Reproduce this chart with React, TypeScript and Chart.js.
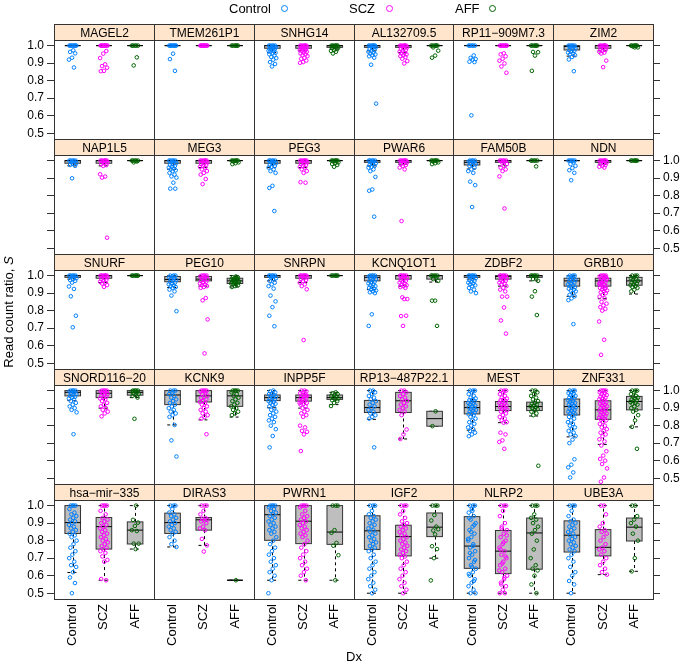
import React, { useEffect, useRef } from 'react';
import { Chart, registerables } from 'chart.js';
Chart.register(...registerables);

// ---------------- data ----------------
const GROUPS = ['Control', 'SCZ', 'AFF'];
const GROUP_COLORS = ['#0080ff', '#ff00ff', '#006400'];
const Y_TICKS = [0.5, 0.6, 0.7, 0.8, 0.9, 1.0];
const Y_MIN = 0.467;
const Y_MAX = 1.032;

const PANEL_NAMES = [
  'MAGEL2', 'TMEM261P1', 'SNHG14', 'AL132709.5', 'RP11\u2212909M7.3', 'ZIM2',
  'NAP1L5', 'MEG3', 'PEG3', 'PWAR6', 'FAM50B', 'NDN',
  'SNURF', 'PEG10', 'SNRPN', 'KCNQ1OT1', 'ZDBF2', 'GRB10',
  'SNORD116\u221220', 'KCNK9', 'INPP5F', 'RP13\u2212487P22.1', 'MEST', 'ZNF331',
  'hsa\u2212mir\u2212335', 'DIRAS3', 'PWRN1', 'IGF2', 'NLRP2', 'UBE3A',
];

// points per panel: [Control, SCZ, AFF]
const MAGEL2_PTS = [
  [1, 1, 1, 1, 1, 1, 1, 1, 0.973, 0.964, 0.956, 0.931, 0.92, 0.875],
  [1, 1, 1, 1, 1, 1, 1, 1, 1, 1, 0.969, 0.954, 0.929, 0.893, 0.883, 0.874, 0.856, 0.854],
  [1, 1, 1, 1, 1, 0.933, 0.887],
];
const TMEM261P1_PTS = [
  [1, 1, 1, 1, 1, 1, 1, 1, 0.954, 0.923, 0.856],
  [1, 1, 1, 1, 1, 1, 1, 1, 1, 1],
  [1, 1, 1, 1, 1, 1],
];
const SNHG14_PTS = [
  [1, 1, 1, 1, 1, 0.995, 0.99, 0.99, 0.985, 0.98, 0.98, 0.975, 0.97, 0.97, 0.965, 0.96, 0.955, 0.95, 0.944, 0.935, 0.929, 0.92, 0.906, 0.895, 0.881],
  [1, 1, 1, 1, 1, 1, 0.995, 0.99, 0.99, 0.985, 0.98, 0.98, 0.975, 0.97, 0.97, 0.965, 0.96, 0.955, 0.95, 0.945, 0.94, 0.93, 0.925, 0.915, 0.906, 0.902],
  [1, 1, 1, 1, 1, 1, 0.995, 0.99, 0.99, 0.985, 0.98, 0.975, 0.97, 0.965, 0.955],
];
const AL132709_PTS = [
  [1, 1, 1, 1, 1, 1, 0.995, 0.99, 0.985, 0.98, 0.975, 0.97, 0.965, 0.96, 0.955, 0.95, 0.945, 0.939, 0.931, 0.891, 0.669],
  [1, 1, 1, 1, 1, 1, 0.995, 0.99, 0.985, 0.98, 0.975, 0.97, 0.965, 0.96, 0.955, 0.95, 0.945, 0.94, 0.935, 0.925, 0.912, 0.898],
  [1, 1, 1, 1, 1, 1, 0.99, 0.971, 0.943, 0.931],
];
const RP11_PTS = [
  [1, 1, 1, 1, 1, 0.944, 0.93, 0.923, 0.92, 0.908, 0.906, 0.602],
  [1, 1, 1, 1, 1, 1, 1, 1, 0.956, 0.95, 0.939, 0.925, 0.914, 0.898, 0.881, 0.845],
  [1, 1, 1, 1, 1, 1, 0.964, 0.962, 0.943, 0.856],
];
const ZIM2_PTS = [
  [1, 1, 1, 1, 1, 0.995, 0.99, 0.985, 0.98, 0.975, 0.97, 0.965, 0.96, 0.955, 0.95, 0.945, 0.935, 0.921, 0.854],
  [1, 1, 1, 1, 1, 1, 0.995, 0.99, 0.985, 0.98, 0.975, 0.97, 0.965, 0.96, 0.955, 0.914, 0.877],
  [1, 1, 1, 1, 1, 1, 0.995, 0.99, 0.99],
];
const NAP1L5_PTS = [
  [1, 1, 1, 1, 1, 0.995, 0.99, 0.985, 0.98, 0.975, 0.97, 0.899],
  [1, 1, 1, 1, 1, 1, 0.995, 0.99, 0.985, 0.98, 0.975, 0.97, 0.922, 0.909, 0.903, 0.56],
  [1, 1, 1, 1, 1, 0.995, 0.99],
];
const MEG3_PTS = [
  [1, 1, 1, 1, 1, 0.995, 0.99, 0.985, 0.98, 0.975, 0.97, 0.965, 0.96, 0.955, 0.95, 0.945, 0.94, 0.93, 0.92, 0.91, 0.903, 0.874, 0.84, 0.84],
  [1, 1, 1, 1, 1, 1, 0.995, 0.99, 0.985, 0.98, 0.975, 0.97, 0.965, 0.96, 0.95, 0.94, 0.93, 0.92, 0.895, 0.866],
  [1, 1, 1, 1, 1, 1, 0.995, 0.99, 0.985, 0.98],
];
const PEG3_PTS = [
  [1, 1, 1, 1, 1, 0.995, 0.99, 0.985, 0.98, 0.975, 0.97, 0.965, 0.96, 0.95, 0.94, 0.93, 0.856, 0.844, 0.712],
  [1, 1, 1, 1, 1, 1, 0.995, 0.99, 0.985, 0.98, 0.975, 0.97, 0.965, 0.96, 0.95, 0.94, 0.93, 0.877, 0.874],
  [1, 1, 1, 1, 1, 1, 0.995, 0.99, 0.985, 0.98, 0.975, 0.965],
];
const PWAR6_PTS = [
  [1, 1, 1, 1, 1, 0.995, 0.99, 0.985, 0.98, 0.975, 0.97, 0.965, 0.96, 0.95, 0.94, 0.907, 0.835, 0.828, 0.68],
  [1, 1, 1, 1, 1, 1, 0.995, 0.99, 0.985, 0.98, 0.975, 0.97, 0.96, 0.95, 0.655],
  [1, 1, 1, 1, 1, 1, 0.995, 0.99, 0.985, 0.98],
];
const FAM50B_PTS = [
  [1, 1, 1, 1, 0.995, 0.99, 0.985, 0.98, 0.975, 0.97, 0.96, 0.95, 0.94, 0.93, 0.88, 0.86, 0.735],
  [1, 1, 1, 1, 1, 0.995, 0.99, 0.98, 0.97, 0.96, 0.95, 0.94, 0.91, 0.727],
  [1, 1, 1, 1, 1, 0.967],
];
const NDN_PTS = [
  [1, 1, 1, 1, 1, 0.99, 0.98, 0.97, 0.958, 0.945, 0.93, 0.888],
  [1, 1, 1, 1, 1, 1, 0.995, 0.99, 0.985, 0.98, 0.975, 0.97, 0.965, 0.96],
  [1, 1, 1, 1, 1, 1],
];
const SNURF_PTS = [
  [1, 1, 1, 1, 1, 0.995, 0.99, 0.985, 0.98, 0.975, 0.97, 0.96, 0.938, 0.924, 0.882, 0.771, 0.705],
  [1, 1, 1, 1, 1, 1, 0.995, 0.99, 0.985, 0.98, 0.975, 0.97, 0.965, 0.96, 0.955, 0.946, 0.936],
  [1, 1, 1, 1, 1, 1],
];
const PEG10_PTS = [
  [1, 1, 1, 0.995, 0.99, 0.985, 0.98, 0.975, 0.97, 0.965, 0.96, 0.955, 0.95, 0.945, 0.94, 0.935, 0.93, 0.92, 0.91, 0.886, 0.797],
  [1, 1, 1, 1, 0.995, 0.99, 0.985, 0.98, 0.975, 0.97, 0.965, 0.96, 0.955, 0.95, 0.945, 0.94, 0.935, 0.93, 0.872, 0.859, 0.75, 0.556],
  [0.995, 0.99, 0.99, 0.985, 0.98, 0.98, 0.975, 0.97, 0.97, 0.965, 0.96, 0.96, 0.955, 0.95, 0.95, 0.945, 0.94, 0.935, 0.985, 0.975, 0.965],
];
const SNRPN_PTS = [
  [1, 1, 1, 1, 1, 0.995, 0.99, 0.985, 0.98, 0.97, 0.96, 0.95, 0.94, 0.926, 0.886, 0.853, 0.82, 0.771, 0.711],
  [1, 1, 1, 1, 1, 1, 0.995, 0.99, 0.985, 0.98, 0.975, 0.97, 0.96, 0.95, 0.94, 0.922, 0.632],
  [1, 1, 1, 1, 1, 1],
];
const KCNQ1OT1_PTS = [
  [1, 1, 1, 1, 0.995, 0.99, 0.985, 0.98, 0.975, 0.97, 0.965, 0.96, 0.955, 0.95, 0.945, 0.94, 0.935, 0.93, 0.925, 0.92, 0.915, 0.91, 0.905, 0.9, 0.779, 0.713],
  [1, 1, 1, 1, 1, 0.995, 0.99, 0.985, 0.98, 0.975, 0.97, 0.965, 0.96, 0.955, 0.95, 0.945, 0.94, 0.935, 0.93, 0.876, 0.866, 0.866, 0.769, 0.771, 0.713],
  [1, 1, 1, 1, 1, 0.99, 0.98, 0.97, 0.857, 0.857, 0.713],
];
const ZDBF2_PTS = [
  [1, 1, 1, 1, 1, 0.995, 0.99, 0.985, 0.98, 0.975, 0.97, 0.965, 0.96, 0.955, 0.95, 0.945, 0.94, 0.93, 0.92, 0.91, 0.9],
  [1, 1, 1, 1, 1, 0.995, 0.99, 0.985, 0.98, 0.975, 0.97, 0.965, 0.96, 0.955, 0.95, 0.94, 0.93, 0.92, 0.91, 0.88, 0.88, 0.818, 0.744, 0.669],
  [1, 1, 1, 1, 1, 0.99, 0.98, 0.97, 0.911, 0.88, 0.775],
];
const GRB10_PTS = [
  [1, 1, 1, 0.995, 0.99, 0.985, 0.98, 0.975, 0.97, 0.965, 0.96, 0.955, 0.95, 0.945, 0.94, 0.935, 0.93, 0.925, 0.92, 0.915, 0.91, 0.9, 0.89, 0.882, 0.87, 0.86, 0.723],
  [1, 1, 1, 1, 0.995, 0.99, 0.985, 0.98, 0.975, 0.97, 0.965, 0.96, 0.955, 0.95, 0.945, 0.94, 0.935, 0.93, 0.925, 0.92, 0.915, 0.91, 0.905, 0.9, 0.89, 0.88, 0.87, 0.85, 0.84, 0.83, 0.82, 0.81, 0.8, 0.738, 0.634, 0.548, 0.99, 0.97, 0.95, 0.93, 0.96, 0.98],
  [1, 1, 1, 0.99, 0.985, 0.98, 0.975, 0.97, 0.965, 0.96, 0.955, 0.95, 0.945, 0.94, 0.935, 0.93, 0.92, 0.91],
];
const SNORD116_PTS = [
  [1, 1, 1, 1, 0.995, 0.99, 0.985, 0.98, 0.975, 0.97, 0.965, 0.96, 0.955, 0.95, 0.94, 0.93, 0.92, 0.91, 0.9, 0.89, 0.876, 0.751],
  [1, 1, 1, 1, 0.995, 0.99, 0.985, 0.98, 0.975, 0.97, 0.965, 0.96, 0.955, 0.95, 0.94, 0.93, 0.92, 0.91, 0.9, 0.89, 0.88, 0.87, 0.853],
  [1, 1, 1, 1, 0.995, 0.99, 0.985, 0.98, 0.975, 0.97, 0.96, 0.839],
];
const KCNK9_PTS = [
  [1, 1, 1, 0.99, 0.98, 0.97, 0.96, 0.95, 0.94, 0.93, 0.92, 0.91, 0.9, 0.89, 0.88, 0.87, 0.86, 0.85, 0.804, 0.716, 0.624],
  [1, 1, 1, 1, 0.995, 0.99, 0.98, 0.97, 0.965, 0.96, 0.95, 0.94, 0.935, 0.93, 0.92, 0.91, 0.9, 0.89, 0.88, 0.87, 0.86, 0.85, 0.84, 0.751],
  [1, 1, 1, 1, 0.99, 0.98, 0.97, 0.96, 0.95, 0.94, 0.93, 0.92, 0.91, 0.9, 0.89, 0.88, 0.87, 0.86],
];
const INPP5F_PTS = [
  [1, 0.995, 0.99, 0.985, 0.98, 0.975, 0.97, 0.965, 0.96, 0.955, 0.95, 0.945, 0.94, 0.935, 0.93, 0.925, 0.92, 0.91, 0.9, 0.89, 0.88, 0.87, 0.86, 0.85, 0.84, 0.83, 0.82, 0.8, 0.78, 0.741, 0.676],
  [1, 1, 0.995, 0.99, 0.985, 0.98, 0.975, 0.97, 0.965, 0.96, 0.955, 0.95, 0.945, 0.94, 0.935, 0.93, 0.925, 0.92, 0.91, 0.9, 0.89, 0.88, 0.87, 0.86, 0.85, 0.8, 0.79, 0.77, 0.765, 0.75, 0.655, 0.97, 0.95, 0.93],
  [0.99, 0.985, 0.98, 0.975, 0.97, 0.965, 0.96, 0.955, 0.95, 0.945, 0.94, 0.93, 0.912],
];
const RP13_PTS = [
  [1, 1, 0.99, 0.98, 0.97, 0.96, 0.95, 0.94, 0.93, 0.92, 0.91, 0.9, 0.89, 0.88, 0.87, 0.86, 0.85, 0.84, 0.676],
  [1, 1, 0.99, 0.98, 0.97, 0.96, 0.95, 0.94, 0.93, 0.92, 0.91, 0.9, 0.89, 0.88, 0.86, 0.778, 0.75, 0.724],
  [0.882, 0.797],
];
const MEST_PTS = [
  [1, 1, 1, 0.99, 0.98, 0.97, 0.96, 0.955, 0.95, 0.945, 0.94, 0.935, 0.93, 0.925, 0.92, 0.915, 0.91, 0.905, 0.9, 0.895, 0.89, 0.885, 0.88, 0.875, 0.87, 0.865, 0.86, 0.85, 0.84, 0.83, 0.82, 0.81, 0.8, 0.79, 0.78, 0.77, 0.76, 0.75, 0.74],
  [1, 1, 1, 0.99, 0.98, 0.97, 0.96, 0.955, 0.95, 0.945, 0.94, 0.935, 0.93, 0.925, 0.92, 0.915, 0.91, 0.905, 0.9, 0.895, 0.89, 0.885, 0.88, 0.87, 0.86, 0.85, 0.84, 0.83, 0.82, 0.817, 0.76, 0.75, 0.716, 0.707, 0.668],
  [1, 1, 0.99, 0.98, 0.97, 0.96, 0.95, 0.94, 0.93, 0.925, 0.92, 0.915, 0.91, 0.905, 0.9, 0.895, 0.89, 0.88, 0.87, 0.86, 0.571],
];
const ZNF331_PTS = [
  [1, 1, 1, 0.99, 0.985, 0.98, 0.975, 0.97, 0.965, 0.96, 0.955, 0.95, 0.945, 0.94, 0.935, 0.93, 0.925, 0.92, 0.915, 0.91, 0.905, 0.9, 0.895, 0.89, 0.885, 0.88, 0.875, 0.87, 0.865, 0.86, 0.85, 0.84, 0.83, 0.82, 0.81, 0.8, 0.79, 0.78, 0.77, 0.76, 0.75, 0.74, 0.72, 0.7, 0.608, 0.577, 0.562, 0.533, 0.504],
  [1, 1, 1, 1, 0.99, 0.985, 0.98, 0.975, 0.97, 0.965, 0.96, 0.955, 0.95, 0.945, 0.94, 0.935, 0.93, 0.925, 0.92, 0.915, 0.91, 0.905, 0.9, 0.895, 0.89, 0.885, 0.88, 0.875, 0.87, 0.865, 0.86, 0.855, 0.85, 0.845, 0.84, 0.835, 0.83, 0.82, 0.81, 0.8, 0.79, 0.78, 0.77, 0.76, 0.75, 0.74, 0.722, 0.71, 0.687, 0.654, 0.629, 0.61, 0.6, 0.581, 0.556, 0.504, 0.48],
  [1, 1, 1, 0.99, 0.98, 0.97, 0.965, 0.96, 0.955, 0.95, 0.945, 0.94, 0.935, 0.93, 0.925, 0.92, 0.91, 0.9, 0.89, 0.88, 0.86, 0.83, 0.793, 0.668],
];
const MIR335_PTS = [
  [1, 1, 1, 1, 0.98, 0.96, 0.95, 0.94, 0.93, 0.92, 0.91, 0.9, 0.89, 0.88, 0.87, 0.86, 0.85, 0.84, 0.83, 0.82, 0.8, 0.78, 0.76, 0.74, 0.72, 0.7, 0.68, 0.66, 0.65, 0.62, 0.59, 0.558, 0.5],
  [1, 1, 1, 1, 0.97, 0.95, 0.93, 0.92, 0.91, 0.9, 0.89, 0.88, 0.87, 0.86, 0.85, 0.84, 0.83, 0.82, 0.81, 0.8, 0.79, 0.78, 0.77, 0.76, 0.75, 0.74, 0.73, 0.71, 0.69, 0.68, 0.581, 0.574],
  [1, 0.919, 0.903, 0.884, 0.86, 0.855, 0.783, 0.783, 0.752],
];
const DIRAS3_PTS = [
  [1, 1, 1, 0.98, 0.96, 0.95, 0.94, 0.93, 0.92, 0.91, 0.9, 0.89, 0.88, 0.87, 0.86, 0.85, 0.84, 0.82, 0.8, 0.78, 0.764],
  [1, 1, 1, 0.97, 0.95, 0.93, 0.925, 0.92, 0.915, 0.91, 0.9, 0.88, 0.87, 0.86, 0.81, 0.773, 0.738],
  [0.574],
];
const PWRN1_PTS = [
  [1, 1, 1, 1, 0.99, 0.98, 0.97, 0.96, 0.95, 0.94, 0.93, 0.92, 0.91, 0.9, 0.89, 0.88, 0.87, 0.86, 0.85, 0.84, 0.82, 0.8, 0.78, 0.76, 0.74, 0.72, 0.7, 0.68, 0.66, 0.64, 0.62, 0.6, 0.574, 0.5],
  [1, 1, 1, 1, 0.99, 0.97, 0.95, 0.94, 0.93, 0.92, 0.91, 0.9, 0.89, 0.88, 0.87, 0.86, 0.85, 0.84, 0.83, 0.82, 0.8, 0.78, 0.76, 0.74, 0.72, 0.7, 0.68, 0.66, 0.64, 0.62, 0.6, 0.574],
  [1, 1, 1, 0.86, 0.845, 0.787, 0.771, 0.717, 0.574],
];
const IGF2_PTS = [
  [1, 1, 1, 0.97, 0.95, 0.94, 0.93, 0.92, 0.91, 0.9, 0.89, 0.88, 0.87, 0.86, 0.85, 0.84, 0.83, 0.82, 0.81, 0.8, 0.79, 0.78, 0.77, 0.76, 0.75, 0.74, 0.72, 0.7, 0.68, 0.66, 0.64, 0.62, 0.6, 0.58, 0.56, 0.54, 0.52, 0.5],
  [1, 1, 1, 0.97, 0.95, 0.93, 0.91, 0.9, 0.89, 0.88, 0.87, 0.86, 0.85, 0.84, 0.83, 0.82, 0.81, 0.8, 0.79, 0.78, 0.77, 0.76, 0.75, 0.74, 0.73, 0.72, 0.71, 0.7, 0.68, 0.66, 0.64, 0.62, 0.6, 0.58, 0.56, 0.54, 0.52, 0.5],
  [1, 1, 1, 0.946, 0.915, 0.88, 0.858, 0.865, 0.836, 0.768, 0.752, 0.7, 0.573],
];
const NLRP2_PTS = [
  [1, 1, 1, 0.98, 0.96, 0.94, 0.92, 0.9, 0.88, 0.86, 0.84, 0.82, 0.8, 0.78, 0.76, 0.74, 0.72, 0.7, 0.68, 0.66, 0.64, 0.62, 0.6, 0.58, 0.56, 0.54, 0.52, 0.5, 0.5, 0.97, 0.93, 0.89, 0.85, 0.81, 0.77, 0.73, 0.69, 0.65, 0.61, 0.57],
  [1, 1, 1, 0.97, 0.94, 0.9, 0.88, 0.86, 0.84, 0.82, 0.8, 0.78, 0.76, 0.74, 0.72, 0.7, 0.68, 0.66, 0.64, 0.62, 0.6, 0.58, 0.56, 0.54, 0.52, 0.5, 0.5, 0.87, 0.83, 0.79, 0.75, 0.71, 0.67, 0.63, 0.59, 0.55],
  [1, 1, 1, 0.95, 0.93, 0.92, 0.9, 0.88, 0.86, 0.84, 0.8, 0.75, 0.7, 0.66, 0.64, 0.63, 0.6, 0.55, 0.5],
];
const UBE3A_PTS = [
  [1, 1, 1, 0.97, 0.94, 0.92, 0.91, 0.9, 0.89, 0.88, 0.87, 0.86, 0.85, 0.84, 0.83, 0.82, 0.81, 0.8, 0.79, 0.78, 0.77, 0.76, 0.75, 0.74, 0.72, 0.7, 0.68, 0.65, 0.62, 0.6, 0.57, 0.55, 0.5],
  [1, 1, 0.95, 0.9, 0.88, 0.86, 0.85, 0.84, 0.82, 0.8, 0.78, 0.76, 0.75, 0.74, 0.72, 0.7, 0.68, 0.66, 0.64, 0.62, 0.606],
  [1, 1, 0.94, 0.92, 0.9, 0.88, 0.84, 0.8, 0.7, 0.625],
];

// box stats per panel: [lowWhisker, Q1, median, Q3, highWhisker] for Control, SCZ, AFF
const ONE = [1, 1, 1, 1, 1];
const MAGEL2_BOX = [ONE, ONE, ONE];
const TMEM261P1_BOX = [ONE, ONE, ONE];
const SNHG14_BOX = [[0.96, 0.985, 1, 1, 1], [0.97, 0.985, 1, 1, 1], [0.98, 0.99, 1, 1, 1]];
const AL132709_BOX = [[0.97, 0.99, 1, 1, 1], [0.96, 0.99, 1, 1, 1], ONE];
const RP11_BOX = [ONE, ONE, ONE];
const ZIM2_BOX = [[0.94, 0.975, 0.995, 1, 1], [0.97, 0.985, 1, 1, 1], ONE];
const NAP1L5_BOX = [[0.97, 0.985, 1, 1, 1], [0.97, 0.985, 1, 1, 1], ONE];
const MEG3_BOX = [[0.95, 0.985, 1, 1, 1], [0.96, 0.985, 1, 1, 1], ONE];
const PEG3_BOX = [[0.96, 0.985, 1, 1, 1], [0.96, 0.985, 1, 1, 1], ONE];
const PWAR6_BOX = [[0.97, 0.99, 1, 1, 1], [0.98, 0.99, 1, 1, 1], ONE];
const FAM50B_BOX = [[0.952, 0.975, 0.99, 1, 1], [0.97, 0.99, 1, 1, 1], ONE];
const NDN_BOX = [ONE, [0.98, 0.99, 1, 1, 1], ONE];
const SNURF_BOX = [[0.98, 0.99, 1, 1, 1], [0.96, 0.985, 1, 1, 1], ONE];
const PEG10_BOX = [[0.932, 0.965, 0.978, 0.995, 1], [0.94, 0.97, 0.98, 0.995, 1], [0.935, 0.955, 0.97, 0.985, 1]];
const SNRPN_BOX = [[0.97, 0.99, 1, 1, 1], [0.96, 0.985, 1, 1, 1], ONE];
const KCNQ1OT1_BOX = [[0.92, 0.97, 0.99, 1, 1], [0.94, 0.98, 1, 1, 1], [0.963, 0.98, 1, 1, 1]];
const ZDBF2_BOX = [[0.98, 0.99, 1, 1, 1], [0.94, 0.98, 0.995, 1, 1], [0.97, 0.99, 1, 1, 1]];
const GRB10_BOX = [[0.882, 0.94, 0.97, 0.985, 1], [0.868, 0.94, 0.97, 0.985, 1], [0.895, 0.945, 0.97, 0.99, 1]];
const SNORD116_BOX = [[0.943, 0.97, 0.99, 1, 1], [0.9, 0.96, 0.985, 1, 1], [0.96, 0.974, 0.99, 1, 1]];
const KCNK9_BOX = [[0.804, 0.92, 0.975, 1, 1], [0.833, 0.935, 0.97, 1, 1], [0.849, 0.91, 0.97, 1, 1]];
const INPP5F_BOX = [[0.902, 0.943, 0.96, 0.975, 1], [0.9, 0.94, 0.96, 0.975, 1], [0.92, 0.95, 0.96, 0.975, 0.99]];
const RP13_BOX = [[0.836, 0.875, 0.903, 0.944, 1], [0.724, 0.875, 0.942, 0.99, 1], [0.797, 0.797, 0.84, 0.882, 0.882]];
const MEST_BOX = [[0.774, 0.867, 0.903, 0.938, 1], [0.817, 0.886, 0.909, 0.938, 1], [0.855, 0.886, 0.909, 0.934, 1]];
const ZNF331_BOX = [[0.736, 0.861, 0.909, 0.952, 1], [0.693, 0.836, 0.89, 0.942, 1], [0.793, 0.89, 0.938, 0.967, 1]];
const MIR335_BOX = [[0.618, 0.841, 0.903, 1, 1], [0.574, 0.752, 0.88, 0.932, 1], [0.752, 0.781, 0.86, 0.907, 1]];
const DIRAS3_BOX = [[0.764, 0.841, 0.903, 0.957, 1], [0.773, 0.86, 0.919, 0.932, 1], [0.574, 0.574, 0.574, 0.574, 0.574]];
const PWRN1_BOX = [[0.574, 0.802, 0.948, 1, 1], [0.574, 0.783, 0.911, 1, 1], [0.574, 0.779, 0.849, 1, 1]];
const IGF2_BOX = [[0.5, 0.75, 0.856, 0.942, 1], [0.5, 0.713, 0.823, 0.888, 1], [0.7, 0.823, 0.877, 0.958, 1]];
const NLRP2_BOX = [[0.5, 0.642, 0.769, 0.937, 1], [0.5, 0.612, 0.74, 0.858, 1], [0.5, 0.637, 0.844, 0.929, 1]];
const UBE3A_BOX = [[0.5, 0.735, 0.831, 0.913, 1], [0.606, 0.713, 0.762, 0.863, 1], [0.625, 0.798, 0.877, 0.929, 1]];

const PANEL_POINTS = [
  MAGEL2_PTS, TMEM261P1_PTS, SNHG14_PTS, AL132709_PTS, RP11_PTS, ZIM2_PTS,
  NAP1L5_PTS, MEG3_PTS, PEG3_PTS, PWAR6_PTS, FAM50B_PTS, NDN_PTS,
  SNURF_PTS, PEG10_PTS, SNRPN_PTS, KCNQ1OT1_PTS, ZDBF2_PTS, GRB10_PTS,
  SNORD116_PTS, KCNK9_PTS, INPP5F_PTS, RP13_PTS, MEST_PTS, ZNF331_PTS,
  MIR335_PTS, DIRAS3_PTS, PWRN1_PTS, IGF2_PTS, NLRP2_PTS, UBE3A_PTS,
];
const PANEL_BOXES = [
  MAGEL2_BOX, TMEM261P1_BOX, SNHG14_BOX, AL132709_BOX, RP11_BOX, ZIM2_BOX,
  NAP1L5_BOX, MEG3_BOX, PEG3_BOX, PWAR6_BOX, FAM50B_BOX, NDN_BOX,
  SNURF_BOX, PEG10_BOX, SNRPN_BOX, KCNQ1OT1_BOX, ZDBF2_BOX, GRB10_BOX,
  SNORD116_BOX, KCNK9_BOX, INPP5F_BOX, RP13_BOX, MEST_BOX, ZNF331_BOX,
  MIR335_BOX, DIRAS3_BOX, PWRN1_BOX, IGF2_BOX, NLRP2_BOX, UBE3A_BOX,
];

// ---------------- layout ----------------
const W = 685;
const H = 669;
const LEFT = 54;
const RIGHT = 653;
const TOP = 24;
const ROW_H = 115;
const STRIP_H = 16;
const PANEL_H = 99;
const AX_W = 30;
const XAX_H = 52;
const FONT = "'Liberation Sans', Arial, Helvetica, sans-serif";
const STRIP_BG = '#ffe5cc';
const FRAME = '#333333';

// deterministic horizontal jitter (presentation only)
const jit = (i: number) => ((((i + 1) * 0.6180339887) % 1) - 0.5) * 0.26;

function makeChart(canvas: HTMLCanvasElement, idx: number) {
  const r = Math.floor(idx / 6);
  const c = idx % 6;
  const colW = (RIGHT - LEFT) / 6;
  const pl = LEFT + c * colW;
  const pr = pl + colW;
  const st = TOP + r * ROW_H;
  const pt = st + STRIP_H;
  const pb = pt + PANEL_H;
  const hasL = c === 0;
  const hasR = c === 5;
  const hasB = r === 4;
  const labL = hasL && r % 2 === 0;
  const labR = hasR && r % 2 === 1;
  const pts = PANEL_POINTS[idx];
  const boxes = PANEL_BOXES[idx];
  const name = PANEL_NAMES[idx];

  const datasets = pts.map((vals: number[], g: number) => ({
    label: GROUPS[g],
    data: vals.map((v, i) => ({ x: g + 1 + jit(i), y: v })),
    showLine: false,
    pointRadius: 1.8,
    pointHoverRadius: 1.8,
    pointBorderWidth: 1,
    borderColor: GROUP_COLORS[g],
    pointBorderColor: GROUP_COLORS[g],
    backgroundColor: 'rgba(0,0,0,0)',
    pointBackgroundColor: 'rgba(0,0,0,0)',
    xAxisID: 'x',
    yAxisID: 'y',
  }));

  const yAxis = (pos: string, show: boolean, lab: boolean) => ({
    type: 'linear',
    position: pos,
    min: Y_MIN,
    max: Y_MAX,
    display: show,
    afterBuildTicks: (s: any) => {
      s.ticks = Y_TICKS.map((v) => ({ value: v }));
    },
    afterFit: (s: any) => {
      s.width = show ? AX_W : 0;
    },
    grid: { display: true, drawOnChartArea: false, drawTicks: true, tickLength: 7, color: FRAME, lineWidth: 1 },
    border: { display: false },
    ticks: {
      display: lab,
      padding: 3,
      color: '#000',
      font: { size: 12, family: FONT },
      callback: (v: any) => Number(v).toFixed(1),
    },
  });

  const deco = {
    id: 'deco' + idx,
    beforeDatasetsDraw(chart: any) {
      const { ctx } = chart;
      const xs = chart.scales.x;
      const ys = chart.scales.y;
      const ca = chart.chartArea;
      ctx.save();
      ctx.beginPath();
      ctx.rect(ca.left, ca.top, ca.right - ca.left, ca.bottom - ca.top);
      ctx.clip();
      boxes.forEach((b: number[], g: number) => {
        if (!b) return;
        const [lo, q1, md, q3, hi] = b;
        const xc = g + 1;
        const xl = xs.getPixelForValue(xc - 0.25);
        const xr = xs.getPixelForValue(xc + 0.25);
        const xm = Math.round(xs.getPixelForValue(xc)) + 0.5;
        const cl = xs.getPixelForValue(xc - 0.17);
        const cr = xs.getPixelForValue(xc + 0.17);
        const yLo = ys.getPixelForValue(lo);
        const yQ1 = ys.getPixelForValue(q1);
        const yMd = ys.getPixelForValue(md);
        const yQ3 = ys.getPixelForValue(q3);
        const yHi = ys.getPixelForValue(hi);
        ctx.strokeStyle = '#000';
        ctx.lineWidth = 1;
        ctx.setLineDash([3, 3]);
        ctx.beginPath();
        ctx.moveTo(xm, yQ3);
        ctx.lineTo(xm, yHi);
        ctx.moveTo(xm, yQ1);
        ctx.lineTo(xm, yLo);
        ctx.moveTo(cl, yHi);
        ctx.lineTo(cr, yHi);
        ctx.moveTo(cl, yLo);
        ctx.lineTo(cr, yLo);
        ctx.stroke();
        ctx.setLineDash([]);
        ctx.fillStyle = '#bebebe';
        ctx.fillRect(xl, yQ3, xr - xl, yQ1 - yQ3);
        ctx.strokeStyle = '#333';
        ctx.strokeRect(xl, yQ3, xr - xl, yQ1 - yQ3);
        ctx.strokeStyle = '#000';
        ctx.beginPath();
        ctx.moveTo(xl, yMd);
        ctx.lineTo(xr, yMd);
        ctx.stroke();
      });
      ctx.restore();
    },
    afterDraw(chart: any) {
      const { ctx } = chart;
      const ca = chart.chartArea;
      const L = Math.round(ca.left) + 0.5;
      const R = Math.round(ca.right) + 0.5;
      const T = Math.round(ca.top) + 0.5;
      const B = Math.round(ca.bottom) + 0.5;
      const S = T - STRIP_H;
      ctx.save();
      ctx.fillStyle = STRIP_BG;
      ctx.fillRect(L, S, R - L, STRIP_H);
      ctx.strokeStyle = FRAME;
      ctx.lineWidth = 1;
      ctx.strokeRect(L, S, R - L, STRIP_H);
      ctx.strokeRect(L, T, R - L, B - T);
      ctx.fillStyle = '#000';
      ctx.font = '12px ' + FONT;
      ctx.textAlign = 'center';
      ctx.textBaseline = 'middle';
      ctx.fillText(name, (L + R) / 2, S + STRIP_H / 2 + 1);
      ctx.restore();
    },
  };

  return new Chart(canvas, {
    type: 'scatter',
    data: { datasets } as any,
    options: {
      animation: false,
      responsive: false,
      devicePixelRatio: 1,
      events: [],
      layout: {
        padding: {
          left: pl - (hasL ? AX_W : 0),
          right: W - pr - (hasR ? AX_W : 0),
          top: pt,
          bottom: H - pb - (hasB ? XAX_H : 0),
        },
      },
      plugins: { legend: { display: false }, tooltip: { enabled: false }, title: { display: false } },
      scales: {
        x: {
          type: 'linear',
          min: 0.4,
          max: 3.6,
          display: hasB,
          position: 'bottom',
          afterBuildTicks: (s: any) => {
            s.ticks = [1, 2, 3].map((v) => ({ value: v }));
          },
          afterFit: (s: any) => {
            s.height = hasB ? XAX_H : 0;
          },
          grid: { display: false, drawTicks: false },
          border: { display: false },
          ticks: {
            autoSkip: false,
            minRotation: 90,
            maxRotation: 90,
            padding: 5,
            color: '#000',
            font: { size: 13, family: FONT },
            callback: (v: any) => GROUPS[Math.round(Number(v)) - 1],
          },
        },
        y: yAxis('left', hasL, labL),
        y2: yAxis('right', hasR, labR),
      } as any,
    },
    plugins: [deco],
  } as any);
}

function LegendItem({ label, color, left, circle }: { label: string; color: string; left: number; circle: number }) {
  return (
    <>
      <span style={{ position: 'absolute', left, top: 1, fontSize: 13, lineHeight: '15px', fontFamily: FONT, fontWeight: 400, color: '#000' }}>{label}</span>
      <span
        style={{
          position: 'absolute',
          left: circle - 3.5,
          top: 5,
          width: 5,
          height: 5,
          borderRadius: '50%',
          border: `1px solid ${color}`,
        }}
      />
    </>
  );
}

export default function App() {
  const refs = useRef<(HTMLCanvasElement | null)[]>([]);
  useEffect(() => {
    const charts = PANEL_NAMES.map((_, i) => makeChart(refs.current[i] as HTMLCanvasElement, i));
    return () => charts.forEach((ch) => ch.destroy());
  }, []);
  return (
    <div style={{ position: 'fixed', left: 0, top: 0, width: W, height: H, overflow: 'hidden', background: '#fff', fontFamily: FONT }}>
      {PANEL_NAMES.map((n, i) => (
        <canvas
          key={n}
          ref={(el) => {
            refs.current[i] = el;
          }}
          width={W}
          height={H}
          style={{ position: 'absolute', left: 0, top: 0, width: W, height: H }}
        />
      ))}
      <LegendItem label="Control" color={GROUP_COLORS[0]} left={229} circle={284} />
      <LegendItem label="SCZ" color={GROUP_COLORS[1]} left={349} circle={389} />
      <LegendItem label="AFF" color={GROUP_COLORS[2]} left={455} circle={492} />
      <div
        style={{
          position: 'absolute',
          left: -91,
          top: 304,
          width: 200,
          height: 16,
          lineHeight: '16px',
          textAlign: 'center',
          transform: 'rotate(-90deg)',
          whiteSpace: 'nowrap',
          fontSize: 13,
          fontWeight: 400,
          fontFamily: FONT,
          color: '#000',
        }}
      >
        Read count ratio, <i>S</i>
      </div>
      <div
        style={{
          position: 'absolute',
          left: 334,
          top: 649,
          width: 40,
          height: 16,
          lineHeight: '16px',
          textAlign: 'center',
          fontSize: 13,
          fontWeight: 400,
          fontFamily: FONT,
          color: '#000',
        }}
      >
        Dx
      </div>
    </div>
  );
}
